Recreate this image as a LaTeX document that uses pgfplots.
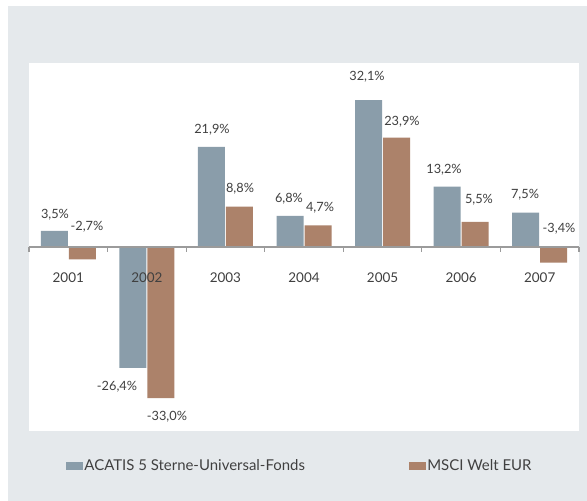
\documentclass[border=0pt]{standalone}
\usepackage{pgfplots}
\pgfplotsset{compat=1.18}
\usepackage{fontspec}
\setmainfont{Lato}
\definecolor{fondblue}{RGB}{138,157,170}
\definecolor{msci}{RGB}{172,130,106}
\definecolor{bggray}{RGB}{229,233,236}
\definecolor{txt}{RGB}{64,64,64}
\definecolor{axgray}{RGB}{155,155,155}
\begin{document}
\begin{tikzpicture}[x=1bp,y=1bp]
\useasboundingbox (0,0) rectangle (587,501);
\fill[white] (0,0) rectangle (587,501);
\fill[bggray] (8,0) rectangle (587,495);
\begin{axis}[
  at={(29bp,70bp)}, anchor=south west,
  scale only axis, width=550bp, height=368bp,
  axis background/.style={fill=white},
  axis on top,
  ybar=1bp, bar width=27bp,
  xmin=-0.5, xmax=6.5, ymin=-40.2, ymax=40.2,
  axis x line=middle, axis y line=none,
  axis line style={-, axgray, line width=1.6bp},
  xtick={0,1,2,3,4,5,6},
  xticklabels={2001,2002,2003,2004,2005,2006,2007},
  minor xtick={-0.5,0.5,1.5,2.5,3.5,4.5,5.5,6.5},
  major tick length=0pt, minor tick length=5bp, tick align=outside,
  minor tick style={axgray, line width=1.2bp},
  xticklabel style={anchor=center, yshift=-31bp, font=\fontsize{13.5}{15}\selectfont, text=txt},
  legend cell align=left,
  legend style={at={(0.062,-0.095)}, anchor=west, draw=none, fill=none,
    legend columns=2, font=\fontsize{15}{17}\selectfont, text=txt,
    /tikz/every even column/.append style={column sep=103bp},
    nodes={inner sep=1.2bp}},
  legend image code/.code={\fill[#1] (0bp,-4bp) rectangle (17bp,4bp);},
]
\addplot[fill=fondblue, draw=none] coordinates {(0,3.5) (1,-26.4) (2,21.9) (3,6.8) (4,32.1) (5,13.2) (6,7.5)};
\addplot[fill=msci, draw=none] coordinates {(0,-2.7) (1,-33.0) (2,8.8) (3,4.7) (4,23.9) (5,5.5) (6,-3.4)};
\legend{ACATIS 5 Sterne-Universal-Fonds, MSCI Welt EUR}
\begin{scope}[every node/.style={font=\fontsize{12.8}{14}\selectfont, text=txt}]
\node at (axis cs:-0.169,6.99) {3,5\%};
\node at (axis cs:0.238,4.37) {-2,7\%};
\node at (axis cs:0.62,-30.57) {-26,4\%};
\node at (axis cs:1.256,-37.1) {-33,0\%};
\node at (axis cs:1.829,25.55) {21,9\%};
\node at (axis cs:2.186,12.66) {8,8\%};
\node at (axis cs:2.809,10.48) {6,8\%};
\node at (axis cs:3.204,8.52) {4,7\%};
\node at (axis cs:3.802,37.1) {32,1\%};
\node at (axis cs:4.247,27.29) {23,9\%};
\node at (axis cs:4.782,16.81) {13,2\%};
\node at (axis cs:5.227,10.26) {5,5\%};
\node at (axis cs:5.813,11.35) {7,5\%};
\node at (axis cs:6.246,3.93) {-3,4\%};
\end{scope}
\end{axis}
\end{tikzpicture}
\end{document}
